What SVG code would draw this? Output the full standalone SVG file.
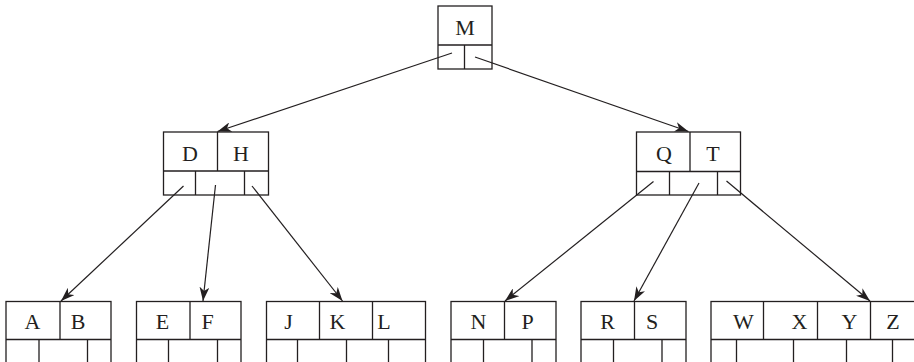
<svg xmlns="http://www.w3.org/2000/svg" width="914" height="362" viewBox="0 0 914 362">
<style>
.b{fill:none;stroke:#231f20;stroke-width:1.3}
.t{font-family:"Liberation Serif","Times New Roman",serif;font-size:22px;fill:#231f20;text-anchor:middle}
.c{stroke:#231f20;stroke-width:1.2;fill:none;marker-end:url(#ah)}
</style>
<defs>
<marker id="ah" viewBox="0 0 14 10" refX="14" refY="5" markerWidth="14" markerHeight="10" markerUnits="userSpaceOnUse" orient="auto">
<path d="M0,0 L14,5 L0,10 L4,5 Z" fill="#231f20"/>
</marker>
</defs>
<rect width="914" height="362" fill="#fff"/>
<g id="node-M">
<rect class="b" x="438" y="6" width="54" height="63"/>
<path class="b" d="M438,45 H492 M464.5,45 V69"/>
<text class="t" x="465" y="35">M</text>
</g>
<g id="node-DH">
<rect class="b" x="163.5" y="132" width="105" height="63"/>
<path class="b" d="M163.5,171 H268.5 M217.5,132 V171 M195.5,171 V195 M244.5,171 V195"/>
<text class="t" x="190" y="160.5">D</text>
<text class="t" x="241" y="160.5">H</text>
</g>
<g id="node-QT">
<rect class="b" x="636.5" y="132" width="104" height="63"/>
<path class="b" d="M636.5,171.5 H740.5 M690,132 V171.5 M669.5,171.5 V195 M717.5,171.5 V195"/>
<text class="t" x="664" y="160.5">Q</text>
<text class="t" x="713" y="160.5">T</text>
</g>
<g id="node-AB">
<rect class="b" x="6" y="301.5" width="105" height="70"/>
<path class="b" d="M6,339.5 H111 M60,301.5 V339.5 M39,339.5 V372 M87.5,339.5 V372"/>
<text class="t" x="32.5" y="329">A</text>
<text class="t" x="78" y="329">B</text>
</g>
<g id="node-EF">
<rect class="b" x="136.5" y="301.5" width="104.5" height="70"/>
<path class="b" d="M136.5,339.5 H241 M190,301.5 V339.5 M168.5,339.5 V372 M217.5,339.5 V372"/>
<text class="t" x="162.5" y="329">E</text>
<text class="t" x="207.5" y="329">F</text>
</g>
<g id="node-JKL">
<rect class="b" x="266.5" y="301.5" width="159" height="70"/>
<path class="b" d="M266.5,339.5 H425.5 M319.5,301.5 V339.5 M372.5,301.5 V339.5 M297.5,339.5 V372 M346.5,339.5 V372 M388.5,339.5 V372"/>
<text class="t" x="288.5" y="329">J</text>
<text class="t" x="337.5" y="329">K</text>
<text class="t" x="384" y="329">L</text>
</g>
<g id="node-NP">
<rect class="b" x="451" y="301.5" width="105" height="70"/>
<path class="b" d="M451,339.5 H556 M504.5,301.5 V339.5 M483.5,339.5 V372 M532,339.5 V372"/>
<text class="t" x="478.5" y="329">N</text>
<text class="t" x="527.5" y="329">P</text>
</g>
<g id="node-RS">
<rect class="b" x="581" y="301.5" width="105" height="70"/>
<path class="b" d="M581,339.5 H686 M634.5,301.5 V339.5 M613.5,339.5 V372 M662,339.5 V372"/>
<text class="t" x="607.5" y="329">R</text>
<text class="t" x="652" y="329">S</text>
</g>
<g id="node-WXYZ">
<rect class="b" x="711" y="301.5" width="210" height="70"/>
<path class="b" d="M711,339.5 H921 M763.5,301.5 V339.5 M817.5,301.5 V339.5 M870.5,301.5 V339.5 M736.5,339.5 V372 M793.5,339.5 V372 M846.5,339.5 V372 M892.5,339.5 V372"/>
<text class="t" x="743.5" y="329">W</text>
<text class="t" x="799.5" y="329">X</text>
<text class="t" x="849.5" y="329">Y</text>
<text class="t" x="893" y="329">Z</text>
</g>
<g id="connectors">
<line class="c" x1="452" y1="53" x2="217.5" y2="131.5"/>
<line class="c" x1="475" y1="57" x2="688.5" y2="131.5"/>
<line class="c" x1="183.5" y1="186" x2="61" y2="301"/>
<line class="c" x1="215.5" y1="185" x2="203" y2="301"/>
<line class="c" x1="252" y1="186" x2="342.5" y2="301"/>
<line class="c" x1="653.5" y1="181.5" x2="505" y2="301"/>
<line class="c" x1="699" y1="183" x2="634" y2="301"/>
<line class="c" x1="726.5" y1="181" x2="870" y2="301"/>
</g>
</svg>
